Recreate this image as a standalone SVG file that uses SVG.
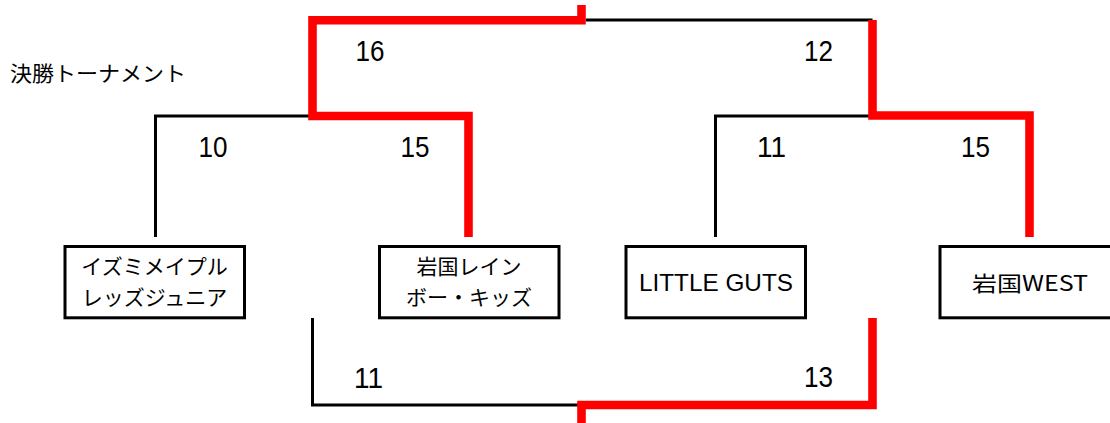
<svg xmlns="http://www.w3.org/2000/svg" width="1110" height="423" viewBox="0 0 1110 423">
<style>
.blk{fill:none;stroke:#000;stroke-width:3;stroke-linejoin:miter}
.red{fill:none;stroke:#ff0000;stroke-width:8.6;stroke-linejoin:miter}
.box{fill:#fff;stroke:#000;stroke-width:3}
.jp{font-family:"Noto Sans CJK JP","Liberation Sans",sans-serif;font-size:21px;fill:#000}
.num{font-family:"Liberation Sans",Arial,sans-serif;font-size:29px;fill:#000;text-anchor:middle}
.en{font-family:"Liberation Sans","Noto Sans CJK JP",sans-serif;font-size:24px;fill:#000;text-anchor:middle}
</style>
<rect width="1110" height="423" fill="#fff"/>
<text id="title" class="jp" x="10" y="81" font-size="22" textLength="176" lengthAdjust="spacingAndGlyphs">決勝トーナメント</text>
<g id="connectors">
  <path class="blk" d="M155.5,237 V116 H312.5"/>
  <path class="blk" d="M715.5,237 V116 H872.5"/>
  <path class="blk" d="M586,20 H872.5"/>
  <path class="blk" d="M312.5,318 V405 H582"/>
  <path class="red" d="M581.5,5 V20.3 H312.5 V116 H468.5 V237"/>
  <path class="red" d="M872.5,20 V115.5 H1029.5 V237"/>
  <path class="red" d="M872.5,318 V405 H581.5 V423"/>
</g>
<g id="scores">
  <text class="num" x="370" y="61" textLength="29" lengthAdjust="spacingAndGlyphs">16</text>
  <text class="num" x="818.5" y="61" textLength="29" lengthAdjust="spacingAndGlyphs">12</text>
  <text class="num" x="213" y="157" textLength="29" lengthAdjust="spacingAndGlyphs">10</text>
  <text class="num" x="415" y="157" textLength="29" lengthAdjust="spacingAndGlyphs">15</text>
  <text class="num" x="771.5" y="157" textLength="29" lengthAdjust="spacingAndGlyphs">11</text>
  <text class="num" x="975.5" y="157" textLength="29" lengthAdjust="spacingAndGlyphs">15</text>
  <text class="num" x="368.5" y="388" textLength="29" lengthAdjust="spacingAndGlyphs">11</text>
  <text class="num" x="818.5" y="387" textLength="29" lengthAdjust="spacingAndGlyphs">13</text>
</g>
<g id="team1">
  <rect class="box" x="65" y="246.5" width="179.5" height="71.3"/>
  <text class="jp" x="154.5" y="274" text-anchor="middle">イズミメイプル</text>
  <text class="jp" x="154.5" y="305" text-anchor="middle">レッズジュニア</text>
</g>
<g id="team2">
  <rect class="box" x="379.5" y="246.5" width="179.5" height="71.3"/>
  <text class="jp" x="469" y="274" text-anchor="middle">岩国レイン</text>
  <text class="jp" x="469" y="305" text-anchor="middle">ボー・キッズ</text>
</g>
<g id="team3">
  <rect class="box" x="626" y="246.5" width="179.5" height="71.3"/>
  <text class="en" x="716" y="291" textLength="154" lengthAdjust="spacingAndGlyphs">LITTLE GUTS</text>
</g>
<g id="team4">
  <rect class="box" x="940" y="246.5" width="179.5" height="71.3"/>
  <text class="jp" x="1030" y="291" text-anchor="middle" font-size="22" textLength="116" lengthAdjust="spacingAndGlyphs">岩国WEST</text>
</g>
</svg>
